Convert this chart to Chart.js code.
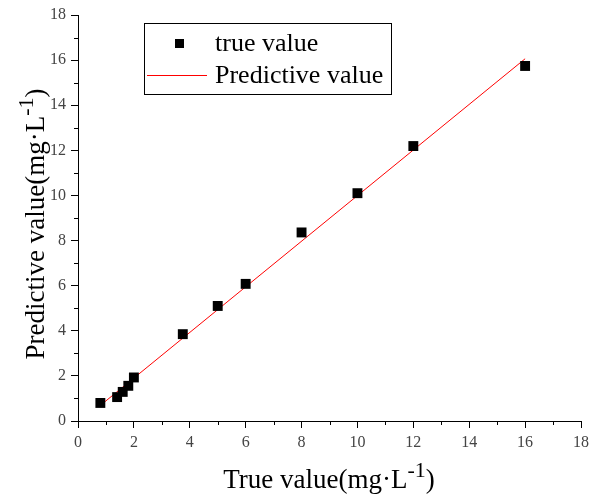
<!DOCTYPE html>
<html>
<head>
<meta charset="utf-8">
<script src="https://cdn.jsdelivr.net/npm/chart.js@4/dist/chart.umd.min.js"></script>
<style>
  html, body { margin: 0; padding: 0; background: #fff; }
  #wrap { width: 592px; height: 498px; }
</style>
</head>
<body>
<div id="wrap"><canvas id="chart"></canvas></div>
<script>
// measured concentrations vs model output
const trueX = [0.8, 1.4, 1.6, 1.8, 2.0, 3.75, 5.0, 6.0, 8.0, 10.0, 12.0, 16.0];
const trueY = [0.8, 1.06, 1.29, 1.56, 1.93, 3.85, 5.1, 6.08, 8.36, 10.1, 12.19, 15.74];
// fitted line, start and end
const fitX = [0.8, 16.0];
const fitY = [0.69, 16.06];
const axisTicks = [0, 2, 4, 6, 8, 10, 12, 14, 16, 18];

const SERIF = '"Liberation Serif", "Times New Roman", serif';

const minorTicks = {
  id: 'minorTicks',
  afterDraw(chart) {
    const ctx = chart.ctx;
    const x = chart.scales.x, y = chart.scales.y;
    ctx.save();
    ctx.strokeStyle = '#000';
    ctx.lineWidth = 1;
    for (let v = 1; v < 18; v += 2) {
      const px = Math.round(x.getPixelForValue(v)) + 0.5;
      ctx.beginPath();
      ctx.moveTo(px, y.bottom);
      ctx.lineTo(px, y.bottom + 4);
      ctx.stroke();
      const py = Math.round(y.getPixelForValue(v)) + 0.5;
      ctx.beginPath();
      ctx.moveTo(x.left, py);
      ctx.lineTo(x.left - 4, py);
      ctx.stroke();
    }
    ctx.restore();
  }
};

// axis title text followed by a raised "-1" and closing bracket
function drawTitle(ctx, base, sup, size) {
  const supSize = Math.round(size * 0.8);
  ctx.font = size + 'px ' + SERIF;
  const w1 = ctx.measureText(base).width;
  const w3 = ctx.measureText(')').width;
  ctx.font = supSize + 'px ' + SERIF;
  const w2 = ctx.measureText(sup).width;
  let x = -(w1 + w2 + w3) / 2;
  ctx.textBaseline = 'alphabetic';
  ctx.textAlign = 'left';
  ctx.font = size + 'px ' + SERIF;
  ctx.fillText(base, x, 0);
  x += w1;
  ctx.font = supSize + 'px ' + SERIF;
  ctx.fillText(sup, x, -size * 0.42);
  x += w2;
  ctx.font = size + 'px ' + SERIF;
  ctx.fillText(')', x, 0);
}

const axisTitles = {
  id: 'axisTitles',
  afterDraw(chart) {
    const ctx = chart.ctx;
    ctx.save();
    ctx.fillStyle = '#000';
    ctx.translate(329, 488);
    drawTitle(ctx, 'True value(mg\u00B7L', '-1', 27);
    ctx.restore();

    ctx.save();
    ctx.fillStyle = '#000';
    ctx.translate(44, 224);
    ctx.rotate(-Math.PI / 2);
    drawTitle(ctx, 'Predictive value(mg\u00B7L', '-1', 27);
    ctx.restore();
  }
};

const legendBox = {
  id: 'legendBox',
  afterDraw(chart) {
    const ctx = chart.ctx;
    ctx.save();
    ctx.strokeStyle = '#000';
    ctx.lineWidth = 1;
    ctx.strokeRect(144.5, 23.5, 247, 71);
    ctx.fillStyle = '#000';
    ctx.fillRect(175, 39, 9, 9);
    ctx.strokeStyle = '#ff0000';
    ctx.beginPath();
    ctx.moveTo(147, 75.5);
    ctx.lineTo(207, 75.5);
    ctx.stroke();
    ctx.fillStyle = '#000';
    ctx.font = '26px ' + SERIF;
    ctx.textBaseline = 'middle';
    ctx.fillText('true value', 215, 44);
    ctx.fillText('Predictive value', 215, 76);
    ctx.restore();
  }
};

const tickOpts = {
  color: '#444',
  font: { family: SERIF, size: 16 },
  padding: 5
};

new Chart(document.getElementById('chart'), {
  type: 'scatter',
  data: {
    datasets: [
      {
        label: 'true value',
        data: trueX.map((x, i) => ({ x, y: trueY[i] })),
        pointStyle: 'rect',
        pointRadius: 7,
        backgroundColor: '#000',
        borderWidth: 0
      },
      {
        label: 'Predictive value',
        type: 'line',
        data: fitX.map((x, i) => ({ x, y: fitY[i] })),
        borderColor: '#ff0000',
        borderWidth: 1,
        pointRadius: 0,
        fill: false
      }
    ]
  },
  options: {
    responsive: true,
    maintainAspectRatio: false,
    animation: false,
    layout: { padding: { left: 0, top: 15, right: 11, bottom: 0 } },
    plugins: { legend: { display: false }, tooltip: { enabled: false } },
    scales: {
      x: {
        type: 'linear',
        min: 0, max: 18,
        afterBuildTicks: s => { s.ticks = axisTicks.map(v => ({ value: v })); },
        afterFit: s => { s.height = 77; s.paddingLeft = 0; s.paddingRight = 0; },
        grid: { drawOnChartArea: false, tickLength: 7, color: '#000' },
        border: { color: '#000', width: 1 },
        ticks: tickOpts
      },
      y: {
        type: 'linear',
        min: 0, max: 18,
        afterBuildTicks: s => { s.ticks = axisTicks.map(v => ({ value: v })); },
        afterFit: s => { s.width = 78; s.paddingTop = 0; s.paddingBottom = 0; },
        grid: { drawOnChartArea: false, tickLength: 7, color: '#000' },
        border: { color: '#000', width: 1 },
        ticks: tickOpts
      }
    }
  },
  plugins: [minorTicks, axisTitles, legendBox]
});
</script>
</body>
</html>
